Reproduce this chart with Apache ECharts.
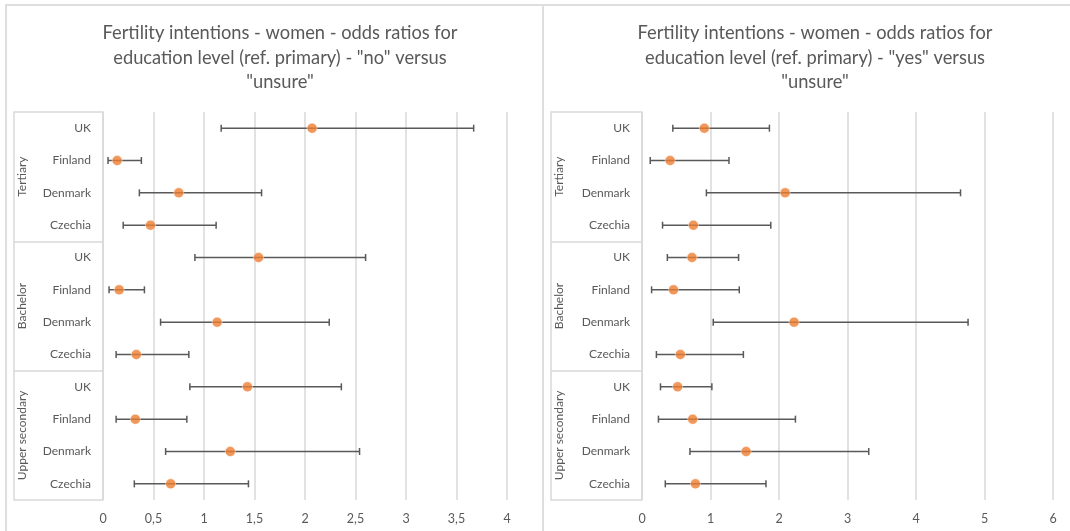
<!DOCTYPE html>
<html>
<head>
<meta charset="utf-8">
<script src="https://cdn.jsdelivr.net/npm/echarts@6/dist/echarts.min.js"></script>
<style>
  html, body { margin: 0; padding: 0; background: #ffffff; }
  #wrap { position: relative; width: 1070px; height: 531px; overflow: hidden; }
  .ln { position: absolute; background: #dedede; }
  #chart { position: absolute; left: 0; top: 0; width: 1070px; height: 531px; }
</style>
</head>
<body>
<div id="wrap">
  <div class="ln" style="left:5px; top:4px; width:1065px; height:2px;"></div>
  <div class="ln" style="left:5px; top:4px; width:2px; height:527px;"></div>
  <div class="ln" style="left:542px; top:4px; width:2px; height:527px;"></div>
  <div id="chart"></div>
</div>
<script>
// ---- data ----
const groups = ['Tertiary', 'Bachelor', 'Upper secondary'];
const countries = ['UK', 'Finland', 'Denmark', 'Czechia'];

// "no" versus "unsure" (left panel), rows top to bottom
const noEst  = [2.07, 0.14, 0.75, 0.47, 1.54, 0.16, 1.13, 0.33, 1.43, 0.32, 1.26, 0.67];
const noLow  = [1.17, 0.05, 0.36, 0.20, 0.91, 0.06, 0.57, 0.13, 0.86, 0.13, 0.62, 0.31];
const noHigh = [3.67, 0.38, 1.57, 1.12, 2.60, 0.41, 2.24, 0.85, 2.36, 0.83, 2.54, 1.44];

// "yes" versus "unsure" (right panel), rows top to bottom
const yesEst  = [0.91, 0.41, 2.09, 0.75, 0.73, 0.46, 2.22, 0.56, 0.52, 0.74, 1.52, 0.78];
const yesLow  = [0.45, 0.12, 0.94, 0.30, 0.37, 0.14, 1.04, 0.21, 0.27, 0.24, 0.70, 0.34];
const yesHigh = [1.86, 1.27, 4.65, 1.88, 1.41, 1.42, 4.76, 1.48, 1.02, 2.24, 3.31, 1.81];

const leftTicks = [0, 0.5, 1, 1.5, 2, 2.5, 3, 3.5, 4];
const rightTicks = [0, 1, 2, 3, 4, 5, 6];

const titles = [
  'Fertility intentions - women - odds ratios for\neducation level (ref. primary) - "no" versus\n"unsure"',
  'Fertility intentions - women - odds ratios for\neducation level (ref. primary) - "yes" versus\n"unsure"'
];

// ---- build ----
const rows = [];
groups.forEach(g => countries.forEach(c => rows.push(g + '|' + c)));

const TXT = '#595959';
const GRID = '#d9d9d9';
const FONT = 'Lato, "Open Sans", sans-serif';

const chart = echarts.init(document.getElementById('chart'), null, { renderer: 'canvas' });

function yAxesFor(gridIndex, boxOffset) {
  return [
    {
      type: 'category', gridIndex, data: rows, inverse: true,
      axisLine: { show: true, lineStyle: { color: GRID, width: 1.5 } },
      axisTick: { show: false },
      axisLabel: { color: TXT, fontSize: 12, fontFamily: FONT, margin: 12,
        formatter: v => v.split('|')[1] },
      splitLine: { show: false }
    },
    {
      type: 'category', gridIndex, data: groups, inverse: true, position: 'left',
      axisLine: { show: false },
      axisTick: { show: true, length: boxOffset, interval: 0, lineStyle: { color: GRID, width: 1.5 } },
      axisLabel: { color: TXT, fontSize: 12, fontFamily: FONT, rotate: 90, margin: boxOffset - 14 },
      splitLine: { show: false }
    },
    {
      type: 'category', gridIndex, data: groups, inverse: true, position: 'left', offset: boxOffset,
      axisLine: { show: true, lineStyle: { color: GRID, width: 1.5 } },
      axisTick: { show: false }, axisLabel: { show: false }, splitLine: { show: false }
    }
  ];
}

function xAxisFor(gridIndex, ticks, fmt) {
  return {
    type: 'value', gridIndex,
    min: ticks[0], max: ticks[ticks.length - 1], interval: ticks[1] - ticks[0],
    axisLine: { show: false }, axisTick: { show: false },
    axisLabel: { color: TXT, fontSize: 12.5, fontFamily: FONT, margin: 12, formatter: fmt },
    splitLine: { show: true, lineStyle: { color: GRID, width: 1.5 } }
  };
}

function errRender(params, api) {
  const y = api.value(2);
  const a = api.coord([api.value(0), y]);
  const b = api.coord([api.value(1), y]);
  const h = 3.5;
  const st = { stroke: '#595959', lineWidth: 1.5 };
  return {
    type: 'group',
    children: [
      { type: 'line', shape: { x1: a[0], y1: a[1], x2: b[0], y2: b[1] }, style: st },
      { type: 'line', shape: { x1: a[0], y1: a[1] - h, x2: a[0], y2: a[1] + h }, style: st },
      { type: 'line', shape: { x1: b[0], y1: b[1] - h, x2: b[0], y2: b[1] + h }, style: st }
    ]
  };
}

function seriesFor(axisIdx, yIdx, est, low, high) {
  return [
    {
      type: 'custom', xAxisIndex: axisIdx, yAxisIndex: yIdx,
      renderItem: errRender,
      encode: { x: [0, 1], y: 2 },
      data: low.map((l, i) => [l, high[i], i]),
      z: 2, silent: true
    },
    {
      type: 'scatter', xAxisIndex: axisIdx, yAxisIndex: yIdx,
      symbol: 'circle', symbolSize: 10,
      itemStyle: { color: '#ED7D31', borderColor: '#ffffff', borderWidth: 0.5 },
      data: est.map((v, i) => [v, i]),
      z: 3, silent: true
    }
  ];
}

const option = {
  animation: false,
  title: [
    { text: titles[0], left: 275, top: 16, textAlign: 'center',
      textStyle: { color: TXT, fontSize: 18.3, fontWeight: 'normal', fontFamily: FONT, lineHeight: 24.5 } },
    { text: titles[1], left: 810, top: 16, textAlign: 'center',
      textStyle: { color: TXT, fontSize: 18.3, fontWeight: 'normal', fontFamily: FONT, lineHeight: 24.5 } }
  ],
  grid: [
    { left: 103, right: 563, top: 112, bottom: 31 },
    { left: 642, right: 17, top: 112, bottom: 31 }
  ],
  xAxis: [
    xAxisFor(0, leftTicks, v => String(v).replace('.', ',')),
    xAxisFor(1, rightTicks, v => String(v))
  ],
  yAxis: [].concat(yAxesFor(0, 89), yAxesFor(1, 91)),
  series: [].concat(
    seriesFor(0, 0, noEst, noLow, noHigh),
    seriesFor(1, 3, yesEst, yesLow, yesHigh)
  )
};
chart.setOption(option);
</script>
</body>
</html>
